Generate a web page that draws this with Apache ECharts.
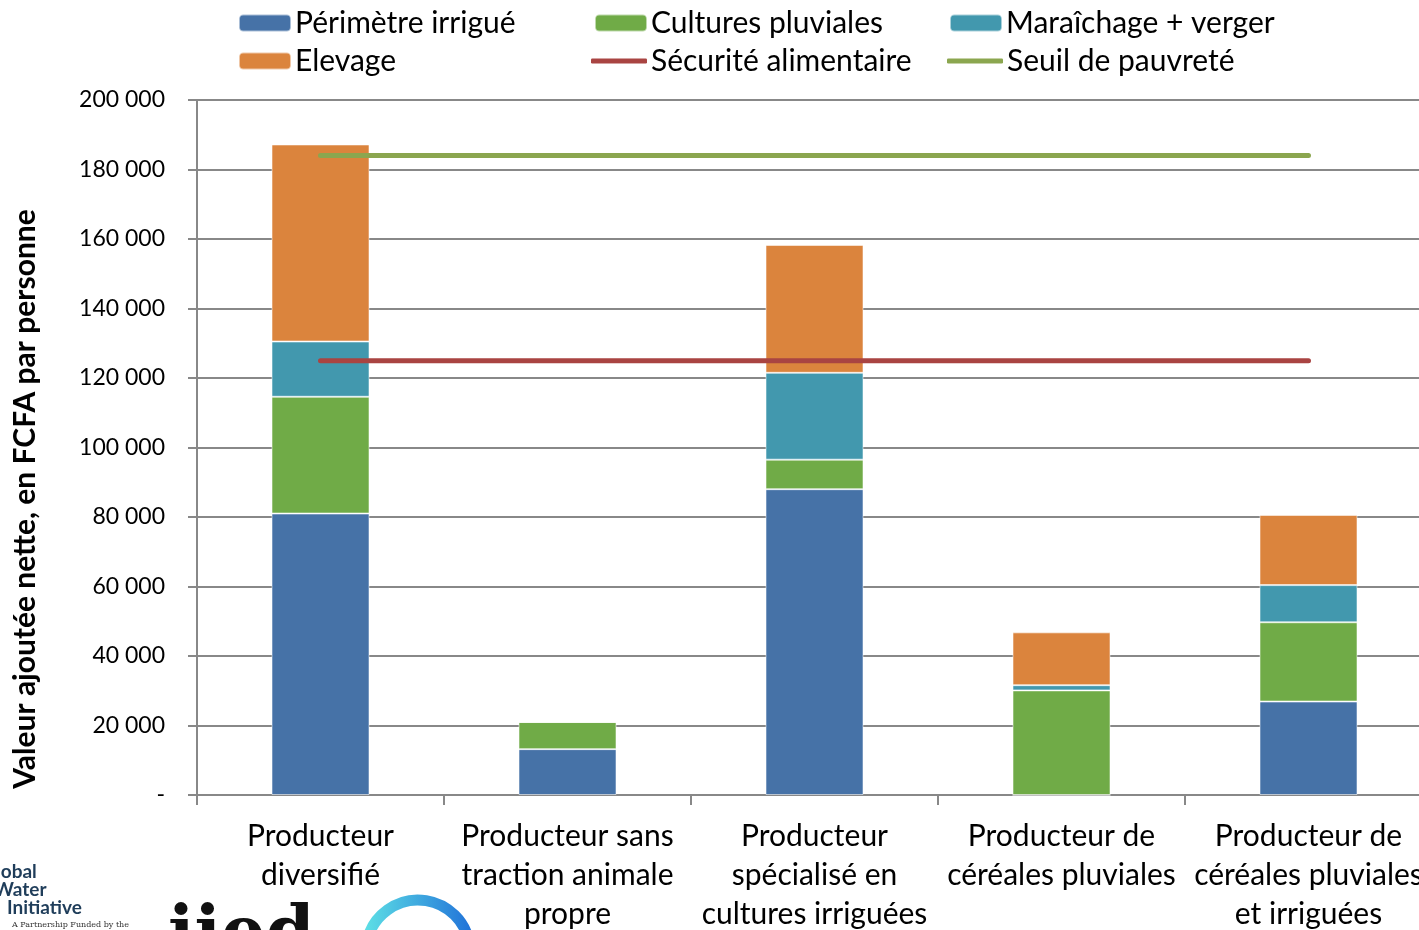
<!DOCTYPE html>
<html>
<head>
<meta charset="utf-8">
<script src="https://cdn.jsdelivr.net/npm/echarts@6/dist/echarts.min.js"></script>
<style>
html,body{margin:0;padding:0;background:#fff;}
#chart{width:1419px;height:930px;}
</style>
</head>
<body>
<div id="chart"></div>
<script>
const categories = [
  'Producteur\ndiversifié',
  'Producteur sans\ntraction animale\npropre',
  'Producteur\nspécialisé en\ncultures irriguées',
  'Producteur de\ncéréales pluviales',
  'Producteur de\ncéréales pluviales\net irriguées'
];
const perimetreIrrigue = [81000, 13200, 88000, 0, 26900];
const culturesPluviales = [33600, 7800, 8500, 30100, 22800];
const maraichageVerger = [15900, 0, 25000, 1500, 10700];
const elevage = [56700, 0, 36800, 15200, 20200];
const securiteAlimentaire = [125000, 125000, 125000, 125000, 125000];
const seuilPauvrete = [184000, 184000, 184000, 184000, 184000];
const yTickLabels = ['-', '20 000', '40 000', '60 000', '80 000', '100 000', '120 000', '140 000', '160 000', '180 000', '200 000'];
const yAxisTitle = 'Valeur ajoutée nette, en FCFA par personne';
const seriesNames = ['Périmètre irrigué', 'Cultures pluviales', 'Maraîchage + verger', 'Elevage', 'Sécurité alimentaire', 'Seuil de pauvreté'];

const FONT = 'Lato';
const colors = {
  blue: '#4672A7', green: '#70AB47', teal: '#4298AE', orange: '#DB843D',
  red: '#A94442', lgreen: '#8BA64F'
};

const chart = echarts.init(document.getElementById('chart'), null, {renderer: 'canvas'});

function legendAt(name, left, top, isLine, color) {
  const item = isLine ? {name: name, icon: 'roundRect', itemStyle: {color: color}} : {name: name};
  return {
    data: [item],
    left: left, top: top,
    orient: 'horizontal',
    itemWidth: isLine ? 56 : 52,
    itemHeight: isLine ? 5 : 17,
    itemGap: 0,
    selectedMode: false,
    padding: 0,
    textStyle: {fontFamily: FONT, fontSize: 30, color: '#000', padding: [0, 0, 0, -1]}
  };
}

function barSeries(name, data, color) {
  return {
    name: name, type: 'bar', stack: 'total', data: data, barWidth: 98,
    itemStyle: {color: color, borderColor: 'rgba(255,255,255,0.55)', borderWidth: 1},
    emphasis: {disabled: true}
  };
}
function lineSeries(name, data, color) {
  return {
    name: name, type: 'line', data: data, symbol: 'none', z: 5,
    lineStyle: {color: color, width: 5, cap: 'round'},
    itemStyle: {color: color},
    emphasis: {disabled: true}
  };
}

const option = {
  backgroundColor: '#fff',
  animation: false,
  legend: [
    legendAt(seriesNames[0], 238, 8, false),
    legendAt(seriesNames[1], 594, 8, false),
    legendAt(seriesNames[2], 949, 8, false),
    legendAt(seriesNames[3], 238, 46, false),
    legendAt(seriesNames[4], 591, 46, true, colors.red),
    legendAt(seriesNames[5], 947, 46, true, colors.lgreen)
  ],
  grid: {left: 197, top: 100, width: 1235, height: 695, containLabel: false, outerBoundsMode: 'none'},
  xAxis: {
    type: 'category',
    data: categories,
    axisLine: {lineStyle: {color: '#888', width: 2}},
    axisTick: {show: true, alignWithLabel: false, length: 10, lineStyle: {color: '#888', width: 2}},
    axisLabel: {
      interval: 0, fontFamily: FONT, fontSize: 30, color: '#000',
      lineHeight: 39, margin: 22
    }
  },
  yAxis: {
    type: 'value', min: 0, max: 200000, interval: 20000,
    axisLine: {show: true, lineStyle: {color: '#888', width: 2}},
    axisTick: {show: true, length: 9, inside: false, lineStyle: {color: '#888', width: 2}},
    splitLine: {show: true, lineStyle: {color: '#888', width: 2}},
    axisLabel: {
      fontFamily: FONT, fontSize: 23, color: '#000', margin: 32,
      formatter: function (v) { return yTickLabels[Math.round(v / 20000)]; }
    }
  },
  series: [
    barSeries(seriesNames[0], perimetreIrrigue, colors.blue),
    barSeries(seriesNames[1], culturesPluviales, colors.green),
    barSeries(seriesNames[2], maraichageVerger, colors.teal),
    barSeries(seriesNames[3], elevage, colors.orange),
    lineSeries(seriesNames[4], securiteAlimentaire, colors.red),
    lineSeries(seriesNames[5], seuilPauvrete, colors.lgreen)
  ],
  graphic: [
    {type: 'text', x: 25, y: 499, rotation: Math.PI / 2,
     style: {text: yAxisTitle, font: 'bold 30px ' + FONT, fill: '#000', align: 'center', verticalAlign: 'middle'}},
    {type: 'text', left: -4, top: 862, style: {text: 'lobal', font: 'bold 19px ' + FONT, fill: '#1f3d5a'}},
    {type: 'text', left: -6, top: 880, style: {text: 'Water', font: 'bold 19px ' + FONT, fill: '#1f3d5a'}},
    {type: 'text', left: 7, top: 898, style: {text: 'Initiative', font: 'bold 19px ' + FONT, fill: '#1f3d5a'}},
    {type: 'text', left: 12, top: 921, style: {text: 'A Partnership Funded by the', font: '8px "DejaVu Serif"', fill: '#333'}},
    {type: 'text', left: 168, top: 902, style: {text: 'iied', font: 'bold 70px "DejaVu Serif"', fill: '#111'}},
    {type: 'arc', shape: {cx: 418, cy: 952, r: 52, startAngle: Math.PI * 1.05, endAngle: Math.PI * 1.95},
     style: {stroke: new echarts.graphic.LinearGradient(0, 0, 1, 0, [{offset: 0, color: '#5fe3e6'}, {offset: 1, color: '#1f6fd8'}]), lineWidth: 11, fill: 'none'}}
  ]
};
chart.setOption(option);
</script>
</body>
</html>
